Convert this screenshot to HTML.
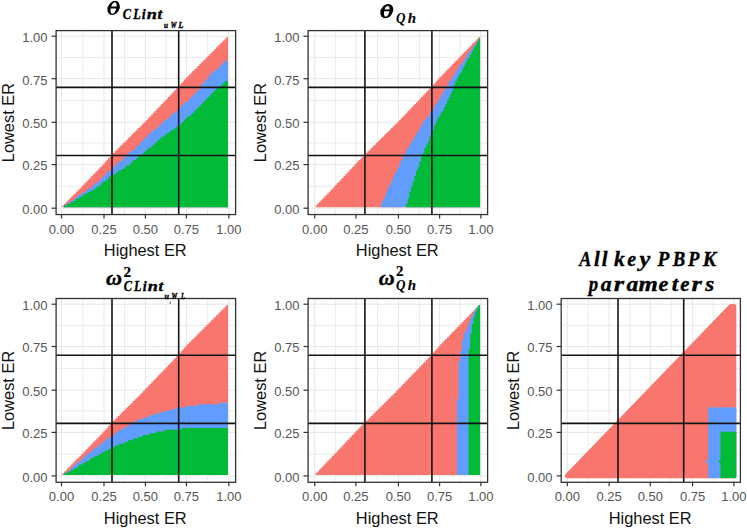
<!DOCTYPE html>
<html><head><meta charset="utf-8"><style>
html,body{margin:0;padding:0;background:#fff;}
svg{display:block;}
.tk{font-family:"Liberation Sans",sans-serif;font-size:13px;fill:#555;}
.at{font-family:"Liberation Sans",sans-serif;font-size:16.4px;fill:#111;}
.ti{font-family:"Liberation Serif",serif;font-weight:bold;font-style:italic;fill:#000;stroke:#000;stroke-width:0.35px;}
.t2{font-family:"Liberation Serif",serif;font-weight:bold;fill:#000;stroke:#000;stroke-width:0.2px;}
</style></head><body>
<svg width="747" height="529" viewBox="0 0 747 529">
<rect width="747" height="529" fill="#fff"/>
<line x1="61.50" y1="30.60" x2="61.50" y2="214.55" stroke="#E6E6E6" stroke-width="1.0"/>
<line x1="56.10" y1="208.20" x2="235.60" y2="208.20" stroke="#E6E6E6" stroke-width="1.0"/>
<line x1="82.75" y1="30.60" x2="82.75" y2="214.55" stroke="#EBEBEB" stroke-width="1.0"/>
<line x1="56.10" y1="186.40" x2="235.60" y2="186.40" stroke="#EBEBEB" stroke-width="1.0"/>
<line x1="104.00" y1="30.60" x2="104.00" y2="214.55" stroke="#E6E6E6" stroke-width="1.0"/>
<line x1="56.10" y1="164.60" x2="235.60" y2="164.60" stroke="#E6E6E6" stroke-width="1.0"/>
<line x1="124.53" y1="30.60" x2="124.53" y2="214.55" stroke="#EBEBEB" stroke-width="1.0"/>
<line x1="56.10" y1="143.05" x2="235.60" y2="143.05" stroke="#EBEBEB" stroke-width="1.0"/>
<line x1="145.40" y1="30.60" x2="145.40" y2="214.55" stroke="#E6E6E6" stroke-width="1.0"/>
<line x1="56.10" y1="122.30" x2="235.60" y2="122.30" stroke="#E6E6E6" stroke-width="1.0"/>
<line x1="166.21" y1="30.60" x2="166.21" y2="214.55" stroke="#EBEBEB" stroke-width="1.0"/>
<line x1="56.10" y1="100.46" x2="235.60" y2="100.46" stroke="#EBEBEB" stroke-width="1.0"/>
<line x1="186.40" y1="30.60" x2="186.40" y2="214.55" stroke="#E6E6E6" stroke-width="1.0"/>
<line x1="56.10" y1="78.70" x2="235.60" y2="78.70" stroke="#E6E6E6" stroke-width="1.0"/>
<line x1="207.62" y1="30.60" x2="207.62" y2="214.55" stroke="#EBEBEB" stroke-width="1.0"/>
<line x1="56.10" y1="57.45" x2="235.60" y2="57.45" stroke="#EBEBEB" stroke-width="1.0"/>
<line x1="228.85" y1="30.60" x2="228.85" y2="214.55" stroke="#E6E6E6" stroke-width="1.0"/>
<line x1="56.10" y1="36.20" x2="235.60" y2="36.20" stroke="#E6E6E6" stroke-width="1.0"/>
<path d="M62.35 207.33 L62.35 205.58 L64.05 205.58 L64.05 203.84 L65.75 203.84 L65.75 202.10 L67.45 202.10 L67.45 200.35 L69.15 200.35 L69.15 198.61 L70.85 198.61 L70.85 196.86 L72.55 196.86 L72.55 195.12 L74.25 195.12 L74.25 193.38 L75.95 193.38 L75.95 191.63 L77.65 191.63 L77.65 189.89 L79.35 189.89 L79.35 188.14 L81.05 188.14 L81.05 186.40 L82.75 186.40 L82.75 184.66 L84.45 184.66 L84.45 182.91 L86.15 182.91 L86.15 181.17 L87.85 181.17 L87.85 179.42 L89.55 179.42 L89.55 177.68 L91.25 177.68 L91.25 175.94 L92.95 175.94 L92.95 174.19 L94.65 174.19 L94.65 172.45 L96.35 172.45 L96.35 170.70 L98.05 170.70 L98.05 168.96 L99.75 168.96 L99.75 167.22 L101.45 167.22 L101.45 165.47 L103.15 165.47 L103.15 163.69 L104.80 163.69 L104.80 161.87 L106.40 161.87 L106.40 160.05 L108.00 160.05 L108.00 158.23 L109.60 158.23 L109.60 156.41 L111.20 156.41 L111.20 154.67 L112.84 154.67 L112.84 153.01 L114.50 153.01 L114.50 151.35 L116.18 151.35 L116.18 149.69 L117.84 149.69 L117.84 148.03 L119.52 148.03 L119.52 146.37 L121.19 146.37 L121.19 144.71 L122.86 144.71 L122.86 143.05 L124.53 143.05 L124.53 141.39 L126.20 141.39 L126.20 139.73 L127.87 139.73 L127.87 138.07 L129.53 138.07 L129.53 136.41 L131.20 136.41 L131.20 134.75 L132.88 134.75 L132.88 133.09 L134.55 133.09 L134.55 131.43 L136.22 131.43 L136.22 129.77 L137.88 129.77 L137.88 128.11 L139.56 128.11 L139.56 126.45 L141.22 126.45 L141.22 124.79 L142.90 124.79 L142.90 123.13 L144.56 123.13 L144.56 121.43 L146.23 121.43 L146.23 119.68 L147.90 119.68 L147.90 117.93 L149.56 117.93 L149.56 116.18 L151.23 116.18 L151.23 114.44 L152.89 114.44 L152.89 112.69 L154.56 112.69 L154.56 110.94 L156.22 110.94 L156.22 109.19 L157.89 109.19 L157.89 107.45 L159.55 107.45 L159.55 105.70 L161.22 105.70 L161.22 103.95 L162.88 103.95 L162.88 102.20 L164.55 102.20 L164.55 100.46 L166.21 100.46 L166.21 98.71 L167.88 98.71 L167.88 96.96 L169.54 96.96 L169.54 95.21 L171.21 95.21 L171.21 93.47 L172.87 93.47 L172.87 91.72 L174.54 91.72 L174.54 89.97 L176.20 89.97 L176.20 88.22 L177.87 88.22 L177.87 86.48 L179.47 86.48 L179.47 84.75 L181.01 84.75 L181.01 83.03 L182.55 83.03 L182.55 81.30 L184.09 81.30 L184.09 79.56 L185.63 79.56 L185.63 77.85 L187.25 77.85 L187.25 76.15 L188.95 76.15 L188.95 74.45 L190.65 74.45 L190.65 72.75 L192.34 72.75 L192.34 71.05 L194.04 71.05 L194.04 69.35 L195.74 69.35 L195.74 67.65 L197.44 67.65 L197.44 65.95 L199.13 65.95 L199.13 64.25 L200.83 64.25 L200.83 62.55 L202.53 62.55 L202.53 60.85 L204.23 60.85 L204.23 59.15 L205.93 59.15 L205.93 57.45 L207.62 57.45 L207.62 55.75 L209.32 55.75 L209.32 54.05 L211.02 54.05 L211.02 52.35 L212.72 52.35 L212.72 50.65 L214.42 50.65 L214.42 48.95 L216.12 48.95 L216.12 47.25 L217.81 47.25 L217.81 45.55 L219.51 45.55 L219.51 43.85 L221.21 43.85 L221.21 42.15 L222.91 42.15 L222.91 40.45 L224.60 40.45 L224.60 38.75 L226.30 38.75 L226.30 37.05 L228.00 37.05 L228.00 207.33 Z" fill="#F8766D"/>
<path d="M62.35 207.33 L62.35 207.33 L64.05 207.33 L64.05 205.58 L65.75 205.58 L65.75 203.84 L67.45 203.84 L67.45 203.84 L69.15 203.84 L69.15 202.10 L70.85 202.10 L70.85 200.35 L72.55 200.35 L72.55 200.35 L74.25 200.35 L74.25 198.61 L75.95 198.61 L75.95 196.86 L77.65 196.86 L77.65 195.12 L79.35 195.12 L79.35 195.12 L81.05 195.12 L81.05 193.38 L82.75 193.38 L82.75 191.63 L84.45 191.63 L84.45 191.63 L86.15 191.63 L86.15 189.89 L87.85 189.89 L87.85 188.14 L89.55 188.14 L89.55 188.14 L91.25 188.14 L91.25 186.40 L92.95 186.40 L92.95 184.66 L94.65 184.66 L94.65 182.91 L96.35 182.91 L96.35 182.91 L98.05 182.91 L98.05 181.17 L99.75 181.17 L99.75 179.42 L101.45 179.42 L101.45 177.68 L103.15 177.68 L103.15 175.94 L104.80 175.94 L104.80 174.19 L106.40 174.19 L106.40 172.45 L108.00 172.45 L108.00 170.70 L109.60 170.70 L109.60 170.70 L111.20 170.70 L111.20 168.96 L112.84 168.96 L112.84 167.22 L114.50 167.22 L114.50 165.47 L116.18 165.47 L116.18 163.69 L117.84 163.69 L117.84 161.87 L119.52 161.87 L119.52 161.87 L121.19 161.87 L121.19 160.05 L122.86 160.05 L122.86 158.23 L124.53 158.23 L124.53 156.41 L126.20 156.41 L126.20 154.67 L127.87 154.67 L127.87 153.01 L129.53 153.01 L129.53 151.35 L131.20 151.35 L131.20 151.35 L132.88 151.35 L132.88 149.69 L134.55 149.69 L134.55 148.03 L136.22 148.03 L136.22 146.37 L137.88 146.37 L137.88 144.71 L139.56 144.71 L139.56 143.05 L141.22 143.05 L141.22 141.39 L142.90 141.39 L142.90 139.73 L144.56 139.73 L144.56 138.07 L146.23 138.07 L146.23 136.41 L147.90 136.41 L147.90 134.75 L149.56 134.75 L149.56 133.09 L151.23 133.09 L151.23 131.43 L152.89 131.43 L152.89 129.77 L154.56 129.77 L154.56 129.77 L156.22 129.77 L156.22 128.11 L157.89 128.11 L157.89 126.45 L159.55 126.45 L159.55 124.79 L161.22 124.79 L161.22 123.13 L162.88 123.13 L162.88 121.43 L164.55 121.43 L164.55 119.68 L166.21 119.68 L166.21 119.68 L167.88 119.68 L167.88 117.93 L169.54 117.93 L169.54 116.18 L171.21 116.18 L171.21 114.44 L172.87 114.44 L172.87 112.69 L174.54 112.69 L174.54 112.69 L176.20 112.69 L176.20 110.94 L177.87 110.94 L177.87 109.19 L179.47 109.19 L179.47 107.45 L181.01 107.45 L181.01 105.70 L182.55 105.70 L182.55 103.95 L184.09 103.95 L184.09 102.20 L185.63 102.20 L185.63 102.20 L187.25 102.20 L187.25 100.46 L188.95 100.46 L188.95 98.71 L190.65 98.71 L190.65 96.96 L192.34 96.96 L192.34 95.21 L194.04 95.21 L194.04 93.47 L195.74 93.47 L195.74 91.72 L197.44 91.72 L197.44 89.97 L199.13 89.97 L199.13 88.22 L200.83 88.22 L200.83 84.75 L202.53 84.75 L202.53 83.03 L204.23 83.03 L204.23 81.30 L205.93 81.30 L205.93 79.56 L207.62 79.56 L207.62 77.85 L209.32 77.85 L209.32 74.45 L211.02 74.45 L211.02 72.75 L212.72 72.75 L212.72 71.05 L214.42 71.05 L214.42 71.05 L216.12 71.05 L216.12 69.35 L217.81 69.35 L217.81 67.65 L219.51 67.65 L219.51 65.95 L221.21 65.95 L221.21 64.25 L222.91 64.25 L222.91 62.55 L224.60 62.55 L224.60 60.85 L226.30 60.85 L226.30 60.85 L228.00 60.85 L228.00 207.33 Z" fill="#619CFF"/>
<path d="M62.35 207.33 L62.35 207.33 L64.05 207.33 L64.05 205.58 L65.75 205.58 L65.75 205.58 L67.45 205.58 L67.45 203.84 L69.15 203.84 L69.15 203.84 L70.85 203.84 L70.85 202.10 L72.55 202.10 L72.55 202.10 L74.25 202.10 L74.25 200.35 L75.95 200.35 L75.95 198.61 L77.65 198.61 L77.65 198.61 L79.35 198.61 L79.35 196.86 L81.05 196.86 L81.05 196.86 L82.75 196.86 L82.75 195.12 L84.45 195.12 L84.45 193.38 L86.15 193.38 L86.15 193.38 L87.85 193.38 L87.85 191.63 L89.55 191.63 L89.55 191.63 L91.25 191.63 L91.25 189.89 L92.95 189.89 L92.95 189.89 L94.65 189.89 L94.65 188.14 L96.35 188.14 L96.35 186.40 L98.05 186.40 L98.05 186.40 L99.75 186.40 L99.75 184.66 L101.45 184.66 L101.45 182.91 L103.15 182.91 L103.15 181.17 L104.80 181.17 L104.80 181.17 L106.40 181.17 L106.40 179.42 L108.00 179.42 L108.00 177.68 L109.60 177.68 L109.60 175.94 L111.20 175.94 L111.20 175.94 L112.84 175.94 L112.84 174.19 L114.50 174.19 L114.50 174.19 L116.18 174.19 L116.18 172.45 L117.84 172.45 L117.84 170.70 L119.52 170.70 L119.52 170.70 L121.19 170.70 L121.19 168.96 L122.86 168.96 L122.86 168.96 L124.53 168.96 L124.53 167.22 L126.20 167.22 L126.20 165.47 L127.87 165.47 L127.87 165.47 L129.53 165.47 L129.53 163.69 L131.20 163.69 L131.20 161.87 L132.88 161.87 L132.88 160.05 L134.55 160.05 L134.55 160.05 L136.22 160.05 L136.22 158.23 L137.88 158.23 L137.88 156.41 L139.56 156.41 L139.56 154.67 L141.22 154.67 L141.22 154.67 L142.90 154.67 L142.90 153.01 L144.56 153.01 L144.56 151.35 L146.23 151.35 L146.23 149.69 L147.90 149.69 L147.90 148.03 L149.56 148.03 L149.56 148.03 L151.23 148.03 L151.23 146.37 L152.89 146.37 L152.89 144.71 L154.56 144.71 L154.56 143.05 L156.22 143.05 L156.22 141.39 L157.89 141.39 L157.89 139.73 L159.55 139.73 L159.55 138.07 L161.22 138.07 L161.22 136.41 L162.88 136.41 L162.88 136.41 L164.55 136.41 L164.55 134.75 L166.21 134.75 L166.21 133.09 L167.88 133.09 L167.88 133.09 L169.54 133.09 L169.54 131.43 L171.21 131.43 L171.21 129.77 L172.87 129.77 L172.87 129.77 L174.54 129.77 L174.54 128.11 L176.20 128.11 L176.20 126.45 L177.87 126.45 L177.87 126.45 L179.47 126.45 L179.47 124.79 L181.01 124.79 L181.01 123.13 L182.55 123.13 L182.55 121.43 L184.09 121.43 L184.09 119.68 L185.63 119.68 L185.63 117.93 L187.25 117.93 L187.25 116.18 L188.95 116.18 L188.95 116.18 L190.65 116.18 L190.65 114.44 L192.34 114.44 L192.34 112.69 L194.04 112.69 L194.04 110.94 L195.74 110.94 L195.74 109.19 L197.44 109.19 L197.44 107.45 L199.13 107.45 L199.13 105.70 L200.83 105.70 L200.83 103.95 L202.53 103.95 L202.53 102.20 L204.23 102.20 L204.23 100.46 L205.93 100.46 L205.93 98.71 L207.62 98.71 L207.62 96.96 L209.32 96.96 L209.32 95.21 L211.02 95.21 L211.02 93.47 L212.72 93.47 L212.72 91.72 L214.42 91.72 L214.42 89.97 L216.12 89.97 L216.12 88.22 L217.81 88.22 L217.81 88.22 L219.51 88.22 L219.51 86.48 L221.21 86.48 L221.21 84.75 L222.91 84.75 L222.91 83.03 L224.60 83.03 L224.60 81.30 L226.30 81.30 L226.30 81.30 L228.00 81.30 L228.00 207.33 Z" fill="#00BA38"/>
<line x1="112.00" y1="30.60" x2="112.00" y2="214.55" stroke="#141414" stroke-width="1.6"/>
<line x1="56.10" y1="155.50" x2="235.60" y2="155.50" stroke="#141414" stroke-width="1.6"/>
<line x1="178.70" y1="30.60" x2="178.70" y2="214.55" stroke="#141414" stroke-width="1.6"/>
<line x1="56.10" y1="87.35" x2="235.60" y2="87.35" stroke="#141414" stroke-width="1.6"/>
<rect x="56.10" y="30.60" width="179.50" height="183.95" fill="none" stroke="#333" stroke-width="1.3"/>
<line x1="61.50" y1="214.55" x2="61.50" y2="218.55" stroke="#333" stroke-width="1.2"/>
<line x1="51.50" y1="208.20" x2="56.10" y2="208.20" stroke="#333" stroke-width="1.2"/>
<text x="61.50" y="233.65" class="tk" text-anchor="middle">0.00</text>
<text x="47.50" y="214.00" class="tk" text-anchor="end">0.00</text>
<line x1="104.00" y1="214.55" x2="104.00" y2="218.55" stroke="#333" stroke-width="1.2"/>
<line x1="51.50" y1="164.60" x2="56.10" y2="164.60" stroke="#333" stroke-width="1.2"/>
<text x="104.00" y="233.65" class="tk" text-anchor="middle">0.25</text>
<text x="47.50" y="170.40" class="tk" text-anchor="end">0.25</text>
<line x1="145.40" y1="214.55" x2="145.40" y2="218.55" stroke="#333" stroke-width="1.2"/>
<line x1="51.50" y1="122.30" x2="56.10" y2="122.30" stroke="#333" stroke-width="1.2"/>
<text x="145.40" y="233.65" class="tk" text-anchor="middle">0.50</text>
<text x="47.50" y="128.10" class="tk" text-anchor="end">0.50</text>
<line x1="186.40" y1="214.55" x2="186.40" y2="218.55" stroke="#333" stroke-width="1.2"/>
<line x1="51.50" y1="78.70" x2="56.10" y2="78.70" stroke="#333" stroke-width="1.2"/>
<text x="186.40" y="233.65" class="tk" text-anchor="middle">0.75</text>
<text x="47.50" y="84.50" class="tk" text-anchor="end">0.75</text>
<line x1="228.85" y1="214.55" x2="228.85" y2="218.55" stroke="#333" stroke-width="1.2"/>
<line x1="51.50" y1="36.20" x2="56.10" y2="36.20" stroke="#333" stroke-width="1.2"/>
<text x="228.85" y="233.65" class="tk" text-anchor="middle">1.00</text>
<text x="47.50" y="42.00" class="tk" text-anchor="end">1.00</text>
<text x="145.25" y="256.15" class="at" text-anchor="middle">Highest ER</text>
<text class="at" text-anchor="middle" transform="translate(13.90 122.58) rotate(-90)">Lowest ER</text>
<line x1="314.75" y1="30.60" x2="314.75" y2="214.55" stroke="#E6E6E6" stroke-width="1.0"/>
<line x1="308.10" y1="208.20" x2="487.60" y2="208.20" stroke="#E6E6E6" stroke-width="1.0"/>
<line x1="335.32" y1="30.60" x2="335.32" y2="214.55" stroke="#EBEBEB" stroke-width="1.0"/>
<line x1="308.10" y1="186.40" x2="487.60" y2="186.40" stroke="#EBEBEB" stroke-width="1.0"/>
<line x1="355.90" y1="30.60" x2="355.90" y2="214.55" stroke="#E6E6E6" stroke-width="1.0"/>
<line x1="308.10" y1="164.60" x2="487.60" y2="164.60" stroke="#E6E6E6" stroke-width="1.0"/>
<line x1="377.46" y1="30.60" x2="377.46" y2="214.55" stroke="#EBEBEB" stroke-width="1.0"/>
<line x1="308.10" y1="143.05" x2="487.60" y2="143.05" stroke="#EBEBEB" stroke-width="1.0"/>
<line x1="398.40" y1="30.60" x2="398.40" y2="214.55" stroke="#E6E6E6" stroke-width="1.0"/>
<line x1="308.10" y1="122.30" x2="487.60" y2="122.30" stroke="#E6E6E6" stroke-width="1.0"/>
<line x1="419.34" y1="30.60" x2="419.34" y2="214.55" stroke="#EBEBEB" stroke-width="1.0"/>
<line x1="308.10" y1="100.46" x2="487.60" y2="100.46" stroke="#EBEBEB" stroke-width="1.0"/>
<line x1="439.60" y1="30.60" x2="439.60" y2="214.55" stroke="#E6E6E6" stroke-width="1.0"/>
<line x1="308.10" y1="78.70" x2="487.60" y2="78.70" stroke="#E6E6E6" stroke-width="1.0"/>
<line x1="460.25" y1="30.60" x2="460.25" y2="214.55" stroke="#EBEBEB" stroke-width="1.0"/>
<line x1="308.10" y1="57.45" x2="487.60" y2="57.45" stroke="#EBEBEB" stroke-width="1.0"/>
<line x1="480.90" y1="30.60" x2="480.90" y2="214.55" stroke="#E6E6E6" stroke-width="1.0"/>
<line x1="308.10" y1="36.20" x2="487.60" y2="36.20" stroke="#E6E6E6" stroke-width="1.0"/>
<path d="M315.57 207.33 L315.57 205.58 L317.22 205.58 L317.22 203.84 L318.87 203.84 L318.87 202.10 L320.51 202.10 L320.51 200.35 L322.16 200.35 L322.16 198.61 L323.80 198.61 L323.80 196.86 L325.45 196.86 L325.45 195.12 L327.09 195.12 L327.09 193.38 L328.74 193.38 L328.74 191.63 L330.39 191.63 L330.39 189.89 L332.03 189.89 L332.03 188.14 L333.68 188.14 L333.68 186.40 L335.32 186.40 L335.32 184.66 L336.97 184.66 L336.97 182.91 L338.62 182.91 L338.62 181.17 L340.26 181.17 L340.26 179.42 L341.91 179.42 L341.91 177.68 L343.56 177.68 L343.56 175.94 L345.20 175.94 L345.20 174.19 L346.85 174.19 L346.85 172.45 L348.49 172.45 L348.49 170.70 L350.14 170.70 L350.14 168.96 L351.78 168.96 L351.78 167.22 L353.43 167.22 L353.43 165.47 L355.08 165.47 L355.08 163.69 L356.80 163.69 L356.80 161.87 L358.60 161.87 L358.60 160.05 L360.40 160.05 L360.40 158.23 L362.20 158.23 L362.20 156.41 L364.00 156.41 L364.00 154.67 L365.74 154.67 L365.74 153.01 L367.41 153.01 L367.41 151.35 L369.09 151.35 L369.09 149.69 L370.76 149.69 L370.76 148.03 L372.44 148.03 L372.44 146.37 L374.11 146.37 L374.11 144.71 L375.79 144.71 L375.79 143.05 L377.46 143.05 L377.46 141.39 L379.14 141.39 L379.14 139.73 L380.81 139.73 L380.81 138.07 L382.49 138.07 L382.49 136.41 L384.16 136.41 L384.16 134.75 L385.84 134.75 L385.84 133.09 L387.51 133.09 L387.51 131.43 L389.19 131.43 L389.19 129.77 L390.86 129.77 L390.86 128.11 L392.54 128.11 L392.54 126.45 L394.21 126.45 L394.21 124.79 L395.89 124.79 L395.89 123.13 L397.56 123.13 L397.56 121.43 L399.24 121.43 L399.24 119.68 L400.91 119.68 L400.91 117.93 L402.59 117.93 L402.59 116.18 L404.26 116.18 L404.26 114.44 L405.94 114.44 L405.94 112.69 L407.61 112.69 L407.61 110.94 L409.29 110.94 L409.29 109.19 L410.96 109.19 L410.96 107.45 L412.64 107.45 L412.64 105.70 L414.31 105.70 L414.31 103.95 L415.99 103.95 L415.99 102.20 L417.66 102.20 L417.66 100.46 L419.34 100.46 L419.34 98.71 L421.01 98.71 L421.01 96.96 L422.69 96.96 L422.69 95.21 L424.36 95.21 L424.36 93.47 L426.04 93.47 L426.04 91.72 L427.71 91.72 L427.71 89.97 L429.39 89.97 L429.39 88.22 L431.06 88.22 L431.06 86.48 L432.67 86.48 L432.67 84.75 L434.21 84.75 L434.21 83.03 L435.75 83.03 L435.75 81.30 L437.29 81.30 L437.29 79.56 L438.83 79.56 L438.83 77.85 L440.43 77.85 L440.43 76.15 L442.08 76.15 L442.08 74.45 L443.73 74.45 L443.73 72.75 L445.38 72.75 L445.38 71.05 L447.03 71.05 L447.03 69.35 L448.69 69.35 L448.69 67.65 L450.34 67.65 L450.34 65.95 L451.99 65.95 L451.99 64.25 L453.64 64.25 L453.64 62.55 L455.29 62.55 L455.29 60.85 L456.95 60.85 L456.95 59.15 L458.60 59.15 L458.60 57.45 L460.25 57.45 L460.25 55.75 L461.90 55.75 L461.90 54.05 L463.55 54.05 L463.55 52.35 L465.21 52.35 L465.21 50.65 L466.86 50.65 L466.86 48.95 L468.51 48.95 L468.51 47.25 L470.16 47.25 L470.16 45.55 L471.81 45.55 L471.81 43.85 L473.47 43.85 L473.47 42.15 L475.12 42.15 L475.12 40.45 L476.77 40.45 L476.77 38.75 L478.42 38.75 L478.42 37.05 L480.07 37.05 L480.07 207.33 Z" fill="#F8766D"/>
<path d="M315.57 207.33 L315.57 207.33 L317.22 207.33 L317.22 207.33 L318.87 207.33 L318.87 207.33 L320.51 207.33 L320.51 207.33 L322.16 207.33 L322.16 207.33 L323.80 207.33 L323.80 207.33 L325.45 207.33 L325.45 207.33 L327.09 207.33 L327.09 207.33 L328.74 207.33 L328.74 207.33 L330.39 207.33 L330.39 207.33 L332.03 207.33 L332.03 207.33 L333.68 207.33 L333.68 207.33 L335.32 207.33 L335.32 207.33 L336.97 207.33 L336.97 207.33 L338.62 207.33 L338.62 207.33 L340.26 207.33 L340.26 207.33 L341.91 207.33 L341.91 207.33 L343.56 207.33 L343.56 207.33 L345.20 207.33 L345.20 207.33 L346.85 207.33 L346.85 207.33 L348.49 207.33 L348.49 207.33 L350.14 207.33 L350.14 207.33 L351.78 207.33 L351.78 207.33 L353.43 207.33 L353.43 207.33 L355.08 207.33 L355.08 207.33 L356.80 207.33 L356.80 207.33 L358.60 207.33 L358.60 207.33 L360.40 207.33 L360.40 207.33 L362.20 207.33 L362.20 207.33 L364.00 207.33 L364.00 207.33 L365.74 207.33 L365.74 207.33 L367.41 207.33 L367.41 207.33 L369.09 207.33 L369.09 207.33 L370.76 207.33 L370.76 207.33 L372.44 207.33 L372.44 207.33 L374.11 207.33 L374.11 207.33 L375.79 207.33 L375.79 207.33 L377.46 207.33 L377.46 207.33 L379.14 207.33 L379.14 207.33 L380.81 207.33 L380.81 203.84 L382.49 203.84 L382.49 200.35 L384.16 200.35 L384.16 196.86 L385.84 196.86 L385.84 191.63 L387.51 191.63 L387.51 188.14 L389.19 188.14 L389.19 184.66 L390.86 184.66 L390.86 181.17 L392.54 181.17 L392.54 177.68 L394.21 177.68 L394.21 174.19 L395.89 174.19 L395.89 170.70 L397.56 170.70 L397.56 167.22 L399.24 167.22 L399.24 163.69 L400.91 163.69 L400.91 160.05 L402.59 160.05 L402.59 154.67 L404.26 154.67 L404.26 153.01 L405.94 153.01 L405.94 149.69 L407.61 149.69 L407.61 148.03 L409.29 148.03 L409.29 144.71 L410.96 144.71 L410.96 141.39 L412.64 141.39 L412.64 139.73 L414.31 139.73 L414.31 136.41 L415.99 136.41 L415.99 133.09 L417.66 133.09 L417.66 131.43 L419.34 131.43 L419.34 128.11 L421.01 128.11 L421.01 124.79 L422.69 124.79 L422.69 121.43 L424.36 121.43 L424.36 119.68 L426.04 119.68 L426.04 117.93 L427.71 117.93 L427.71 116.18 L429.39 116.18 L429.39 112.69 L431.06 112.69 L431.06 110.94 L432.67 110.94 L432.67 109.19 L434.21 109.19 L434.21 105.70 L435.75 105.70 L435.75 103.95 L437.29 103.95 L437.29 100.46 L438.83 100.46 L438.83 98.71 L440.43 98.71 L440.43 95.21 L442.08 95.21 L442.08 93.47 L443.73 93.47 L443.73 89.97 L445.38 89.97 L445.38 88.22 L447.03 88.22 L447.03 84.75 L448.69 84.75 L448.69 81.30 L450.34 81.30 L450.34 79.56 L451.99 79.56 L451.99 76.15 L453.64 76.15 L453.64 74.45 L455.29 74.45 L455.29 71.05 L456.95 71.05 L456.95 69.35 L458.60 69.35 L458.60 65.95 L460.25 65.95 L460.25 64.25 L461.90 64.25 L461.90 62.55 L463.55 62.55 L463.55 59.15 L465.21 59.15 L465.21 57.45 L466.86 57.45 L466.86 54.05 L468.51 54.05 L468.51 52.35 L470.16 52.35 L470.16 50.65 L471.81 50.65 L471.81 47.25 L473.47 47.25 L473.47 45.55 L475.12 45.55 L475.12 43.85 L476.77 43.85 L476.77 40.45 L478.42 40.45 L478.42 38.75 L480.07 38.75 L480.07 207.33 Z" fill="#619CFF"/>
<path d="M315.57 207.33 L315.57 207.33 L317.22 207.33 L317.22 207.33 L318.87 207.33 L318.87 207.33 L320.51 207.33 L320.51 207.33 L322.16 207.33 L322.16 207.33 L323.80 207.33 L323.80 207.33 L325.45 207.33 L325.45 207.33 L327.09 207.33 L327.09 207.33 L328.74 207.33 L328.74 207.33 L330.39 207.33 L330.39 207.33 L332.03 207.33 L332.03 207.33 L333.68 207.33 L333.68 207.33 L335.32 207.33 L335.32 207.33 L336.97 207.33 L336.97 207.33 L338.62 207.33 L338.62 207.33 L340.26 207.33 L340.26 207.33 L341.91 207.33 L341.91 207.33 L343.56 207.33 L343.56 207.33 L345.20 207.33 L345.20 207.33 L346.85 207.33 L346.85 207.33 L348.49 207.33 L348.49 207.33 L350.14 207.33 L350.14 207.33 L351.78 207.33 L351.78 207.33 L353.43 207.33 L353.43 207.33 L355.08 207.33 L355.08 207.33 L356.80 207.33 L356.80 207.33 L358.60 207.33 L358.60 207.33 L360.40 207.33 L360.40 207.33 L362.20 207.33 L362.20 207.33 L364.00 207.33 L364.00 207.33 L365.74 207.33 L365.74 207.33 L367.41 207.33 L367.41 207.33 L369.09 207.33 L369.09 207.33 L370.76 207.33 L370.76 207.33 L372.44 207.33 L372.44 207.33 L374.11 207.33 L374.11 207.33 L375.79 207.33 L375.79 207.33 L377.46 207.33 L377.46 207.33 L379.14 207.33 L379.14 207.33 L380.81 207.33 L380.81 207.33 L382.49 207.33 L382.49 207.33 L384.16 207.33 L384.16 207.33 L385.84 207.33 L385.84 207.33 L387.51 207.33 L387.51 207.33 L389.19 207.33 L389.19 207.33 L390.86 207.33 L390.86 207.33 L392.54 207.33 L392.54 207.33 L394.21 207.33 L394.21 207.33 L395.89 207.33 L395.89 207.33 L397.56 207.33 L397.56 207.33 L399.24 207.33 L399.24 207.33 L400.91 207.33 L400.91 207.33 L402.59 207.33 L402.59 207.33 L404.26 207.33 L404.26 207.33 L405.94 207.33 L405.94 203.84 L407.61 203.84 L407.61 198.61 L409.29 198.61 L409.29 191.63 L410.96 191.63 L410.96 186.40 L412.64 186.40 L412.64 181.17 L414.31 181.17 L414.31 175.94 L415.99 175.94 L415.99 170.70 L417.66 170.70 L417.66 167.22 L419.34 167.22 L419.34 161.87 L421.01 161.87 L421.01 156.41 L422.69 156.41 L422.69 153.01 L424.36 153.01 L424.36 148.03 L426.04 148.03 L426.04 144.71 L427.71 144.71 L427.71 141.39 L429.39 141.39 L429.39 136.41 L431.06 136.41 L431.06 133.09 L432.67 133.09 L432.67 129.77 L434.21 129.77 L434.21 124.79 L435.75 124.79 L435.75 121.43 L437.29 121.43 L437.29 117.93 L438.83 117.93 L438.83 116.18 L440.43 116.18 L440.43 112.69 L442.08 112.69 L442.08 110.94 L443.73 110.94 L443.73 107.45 L445.38 107.45 L445.38 103.95 L447.03 103.95 L447.03 100.46 L448.69 100.46 L448.69 96.96 L450.34 96.96 L450.34 93.47 L451.99 93.47 L451.99 89.97 L453.64 89.97 L453.64 84.75 L455.29 84.75 L455.29 81.30 L456.95 81.30 L456.95 77.85 L458.60 77.85 L458.60 74.45 L460.25 74.45 L460.25 72.75 L461.90 72.75 L461.90 69.35 L463.55 69.35 L463.55 65.95 L465.21 65.95 L465.21 62.55 L466.86 62.55 L466.86 59.15 L468.51 59.15 L468.51 57.45 L470.16 57.45 L470.16 54.05 L471.81 54.05 L471.81 50.65 L473.47 50.65 L473.47 47.25 L475.12 47.25 L475.12 45.55 L476.77 45.55 L476.77 42.15 L478.42 42.15 L478.42 38.75 L480.07 38.75 L480.07 207.33 Z" fill="#00BA38"/>
<line x1="364.90" y1="30.60" x2="364.90" y2="214.55" stroke="#141414" stroke-width="1.6"/>
<line x1="308.10" y1="155.50" x2="487.60" y2="155.50" stroke="#141414" stroke-width="1.6"/>
<line x1="431.90" y1="30.60" x2="431.90" y2="214.55" stroke="#141414" stroke-width="1.6"/>
<line x1="308.10" y1="87.35" x2="487.60" y2="87.35" stroke="#141414" stroke-width="1.6"/>
<rect x="308.10" y="30.60" width="179.50" height="183.95" fill="none" stroke="#333" stroke-width="1.3"/>
<line x1="314.75" y1="214.55" x2="314.75" y2="218.55" stroke="#333" stroke-width="1.2"/>
<line x1="303.50" y1="208.20" x2="308.10" y2="208.20" stroke="#333" stroke-width="1.2"/>
<text x="314.75" y="233.65" class="tk" text-anchor="middle">0.00</text>
<text x="299.50" y="214.00" class="tk" text-anchor="end">0.00</text>
<line x1="355.90" y1="214.55" x2="355.90" y2="218.55" stroke="#333" stroke-width="1.2"/>
<line x1="303.50" y1="164.60" x2="308.10" y2="164.60" stroke="#333" stroke-width="1.2"/>
<text x="355.90" y="233.65" class="tk" text-anchor="middle">0.25</text>
<text x="299.50" y="170.40" class="tk" text-anchor="end">0.25</text>
<line x1="398.40" y1="214.55" x2="398.40" y2="218.55" stroke="#333" stroke-width="1.2"/>
<line x1="303.50" y1="122.30" x2="308.10" y2="122.30" stroke="#333" stroke-width="1.2"/>
<text x="398.40" y="233.65" class="tk" text-anchor="middle">0.50</text>
<text x="299.50" y="128.10" class="tk" text-anchor="end">0.50</text>
<line x1="439.60" y1="214.55" x2="439.60" y2="218.55" stroke="#333" stroke-width="1.2"/>
<line x1="303.50" y1="78.70" x2="308.10" y2="78.70" stroke="#333" stroke-width="1.2"/>
<text x="439.60" y="233.65" class="tk" text-anchor="middle">0.75</text>
<text x="299.50" y="84.50" class="tk" text-anchor="end">0.75</text>
<line x1="480.90" y1="214.55" x2="480.90" y2="218.55" stroke="#333" stroke-width="1.2"/>
<line x1="303.50" y1="36.20" x2="308.10" y2="36.20" stroke="#333" stroke-width="1.2"/>
<text x="480.90" y="233.65" class="tk" text-anchor="middle">1.00</text>
<text x="299.50" y="42.00" class="tk" text-anchor="end">1.00</text>
<text x="397.25" y="256.15" class="at" text-anchor="middle">Highest ER</text>
<text class="at" text-anchor="middle" transform="translate(265.90 122.58) rotate(-90)">Lowest ER</text>
<line x1="61.50" y1="298.50" x2="61.50" y2="482.30" stroke="#E6E6E6" stroke-width="1.0"/>
<line x1="56.10" y1="475.90" x2="235.60" y2="475.90" stroke="#E6E6E6" stroke-width="1.0"/>
<line x1="82.75" y1="298.50" x2="82.75" y2="482.30" stroke="#EBEBEB" stroke-width="1.0"/>
<line x1="56.10" y1="454.15" x2="235.60" y2="454.15" stroke="#EBEBEB" stroke-width="1.0"/>
<line x1="104.00" y1="298.50" x2="104.00" y2="482.30" stroke="#E6E6E6" stroke-width="1.0"/>
<line x1="56.10" y1="432.40" x2="235.60" y2="432.40" stroke="#E6E6E6" stroke-width="1.0"/>
<line x1="124.53" y1="298.50" x2="124.53" y2="482.30" stroke="#EBEBEB" stroke-width="1.0"/>
<line x1="56.10" y1="410.92" x2="235.60" y2="410.92" stroke="#EBEBEB" stroke-width="1.0"/>
<line x1="145.40" y1="298.50" x2="145.40" y2="482.30" stroke="#E6E6E6" stroke-width="1.0"/>
<line x1="56.10" y1="390.20" x2="235.60" y2="390.20" stroke="#E6E6E6" stroke-width="1.0"/>
<line x1="166.21" y1="298.50" x2="166.21" y2="482.30" stroke="#EBEBEB" stroke-width="1.0"/>
<line x1="56.10" y1="368.39" x2="235.60" y2="368.39" stroke="#EBEBEB" stroke-width="1.0"/>
<line x1="186.40" y1="298.50" x2="186.40" y2="482.30" stroke="#E6E6E6" stroke-width="1.0"/>
<line x1="56.10" y1="346.50" x2="235.60" y2="346.50" stroke="#E6E6E6" stroke-width="1.0"/>
<line x1="207.62" y1="298.50" x2="207.62" y2="482.30" stroke="#EBEBEB" stroke-width="1.0"/>
<line x1="56.10" y1="325.35" x2="235.60" y2="325.35" stroke="#EBEBEB" stroke-width="1.0"/>
<line x1="228.85" y1="298.50" x2="228.85" y2="482.30" stroke="#E6E6E6" stroke-width="1.0"/>
<line x1="56.10" y1="304.20" x2="235.60" y2="304.20" stroke="#E6E6E6" stroke-width="1.0"/>
<path d="M62.35 475.03 L62.35 473.29 L64.05 473.29 L64.05 471.55 L65.75 471.55 L65.75 469.81 L67.45 469.81 L67.45 468.07 L69.15 468.07 L69.15 466.33 L70.85 466.33 L70.85 464.59 L72.55 464.59 L72.55 462.85 L74.25 462.85 L74.25 461.11 L75.95 461.11 L75.95 459.37 L77.65 459.37 L77.65 457.63 L79.35 457.63 L79.35 455.89 L81.05 455.89 L81.05 454.15 L82.75 454.15 L82.75 452.41 L84.45 452.41 L84.45 450.67 L86.15 450.67 L86.15 448.93 L87.85 448.93 L87.85 447.19 L89.55 447.19 L89.55 445.45 L91.25 445.45 L91.25 443.71 L92.95 443.71 L92.95 441.97 L94.65 441.97 L94.65 440.23 L96.35 440.23 L96.35 438.49 L98.05 438.49 L98.05 436.75 L99.75 436.75 L99.75 435.01 L101.45 435.01 L101.45 433.27 L103.15 433.27 L103.15 431.50 L104.80 431.50 L104.80 429.69 L106.40 429.69 L106.40 427.88 L108.00 427.88 L108.00 426.06 L109.60 426.06 L109.60 424.25 L111.20 424.25 L111.20 422.52 L112.84 422.52 L112.84 420.86 L114.50 420.86 L114.50 419.21 L116.18 419.21 L116.18 417.55 L117.84 417.55 L117.84 415.89 L119.52 415.89 L119.52 414.23 L121.19 414.23 L121.19 412.58 L122.86 412.58 L122.86 410.92 L124.53 410.92 L124.53 409.26 L126.20 409.26 L126.20 407.60 L127.87 407.60 L127.87 405.95 L129.53 405.95 L129.53 404.29 L131.20 404.29 L131.20 402.63 L132.88 402.63 L132.88 400.97 L134.55 400.97 L134.55 399.32 L136.22 399.32 L136.22 397.66 L137.88 397.66 L137.88 396.00 L139.56 396.00 L139.56 394.34 L141.22 394.34 L141.22 392.69 L142.90 392.69 L142.90 391.03 L144.56 391.03 L144.56 389.33 L146.23 389.33 L146.23 387.58 L147.90 387.58 L147.90 385.84 L149.56 385.84 L149.56 384.09 L151.23 384.09 L151.23 382.35 L152.89 382.35 L152.89 380.60 L154.56 380.60 L154.56 378.86 L156.22 378.86 L156.22 377.11 L157.89 377.11 L157.89 375.37 L159.55 375.37 L159.55 373.62 L161.22 373.62 L161.22 371.88 L162.88 371.88 L162.88 370.13 L164.55 370.13 L164.55 368.39 L166.21 368.39 L166.21 366.64 L167.88 366.64 L167.88 364.90 L169.54 364.90 L169.54 363.15 L171.21 363.15 L171.21 361.41 L172.87 361.41 L172.87 359.66 L174.54 359.66 L174.54 357.92 L176.20 357.92 L176.20 356.17 L177.87 356.17 L177.87 354.42 L179.47 354.42 L179.47 352.66 L181.01 352.66 L181.01 350.90 L182.55 350.90 L182.55 349.14 L184.09 349.14 L184.09 347.38 L185.63 347.38 L185.63 345.65 L187.25 345.65 L187.25 343.96 L188.95 343.96 L188.95 342.27 L190.65 342.27 L190.65 340.58 L192.34 340.58 L192.34 338.89 L194.04 338.89 L194.04 337.19 L195.74 337.19 L195.74 335.50 L197.44 335.50 L197.44 333.81 L199.13 333.81 L199.13 332.12 L200.83 332.12 L200.83 330.43 L202.53 330.43 L202.53 328.73 L204.23 328.73 L204.23 327.04 L205.93 327.04 L205.93 325.35 L207.62 325.35 L207.62 323.66 L209.32 323.66 L209.32 321.97 L211.02 321.97 L211.02 320.27 L212.72 320.27 L212.72 318.58 L214.42 318.58 L214.42 316.89 L216.12 316.89 L216.12 315.20 L217.81 315.20 L217.81 313.51 L219.51 313.51 L219.51 311.81 L221.21 311.81 L221.21 310.12 L222.91 310.12 L222.91 308.43 L224.60 308.43 L224.60 306.74 L226.30 306.74 L226.30 305.05 L228.00 305.05 L228.00 475.03 Z" fill="#F8766D"/>
<path d="M62.35 475.03 L62.35 475.03 L64.05 475.03 L64.05 473.29 L65.75 473.29 L65.75 471.55 L67.45 471.55 L67.45 471.55 L69.15 471.55 L69.15 469.81 L70.85 469.81 L70.85 468.07 L72.55 468.07 L72.55 466.33 L74.25 466.33 L74.25 464.59 L75.95 464.59 L75.95 462.85 L77.65 462.85 L77.65 462.85 L79.35 462.85 L79.35 461.11 L81.05 461.11 L81.05 459.37 L82.75 459.37 L82.75 457.63 L84.45 457.63 L84.45 455.89 L86.15 455.89 L86.15 454.15 L87.85 454.15 L87.85 452.41 L89.55 452.41 L89.55 452.41 L91.25 452.41 L91.25 450.67 L92.95 450.67 L92.95 448.93 L94.65 448.93 L94.65 447.19 L96.35 447.19 L96.35 447.19 L98.05 447.19 L98.05 445.45 L99.75 445.45 L99.75 443.71 L101.45 443.71 L101.45 443.71 L103.15 443.71 L103.15 441.97 L104.80 441.97 L104.80 440.23 L106.40 440.23 L106.40 438.49 L108.00 438.49 L108.00 438.49 L109.60 438.49 L109.60 436.75 L111.20 436.75 L111.20 435.01 L112.84 435.01 L112.84 435.01 L114.50 435.01 L114.50 433.27 L116.18 433.27 L116.18 431.50 L117.84 431.50 L117.84 431.50 L119.52 431.50 L119.52 429.69 L121.19 429.69 L121.19 429.69 L122.86 429.69 L122.86 427.88 L124.53 427.88 L124.53 427.88 L126.20 427.88 L126.20 426.06 L127.87 426.06 L127.87 426.06 L129.53 426.06 L129.53 424.25 L131.20 424.25 L131.20 422.52 L132.88 422.52 L132.88 422.52 L134.55 422.52 L134.55 420.86 L136.22 420.86 L136.22 420.86 L137.88 420.86 L137.88 419.21 L139.56 419.21 L139.56 419.21 L141.22 419.21 L141.22 419.21 L142.90 419.21 L142.90 417.55 L144.56 417.55 L144.56 417.55 L146.23 417.55 L146.23 417.55 L147.90 417.55 L147.90 415.89 L149.56 415.89 L149.56 415.89 L151.23 415.89 L151.23 414.23 L152.89 414.23 L152.89 414.23 L154.56 414.23 L154.56 414.23 L156.22 414.23 L156.22 414.23 L157.89 414.23 L157.89 412.58 L159.55 412.58 L159.55 412.58 L161.22 412.58 L161.22 412.58 L162.88 412.58 L162.88 410.92 L164.55 410.92 L164.55 410.92 L166.21 410.92 L166.21 410.92 L167.88 410.92 L167.88 410.92 L169.54 410.92 L169.54 409.26 L171.21 409.26 L171.21 409.26 L172.87 409.26 L172.87 409.26 L174.54 409.26 L174.54 409.26 L176.20 409.26 L176.20 407.60 L177.87 407.60 L177.87 407.60 L179.47 407.60 L179.47 407.60 L181.01 407.60 L181.01 407.60 L182.55 407.60 L182.55 407.60 L184.09 407.60 L184.09 407.60 L185.63 407.60 L185.63 405.95 L187.25 405.95 L187.25 405.95 L188.95 405.95 L188.95 405.95 L190.65 405.95 L190.65 405.95 L192.34 405.95 L192.34 405.95 L194.04 405.95 L194.04 405.95 L195.74 405.95 L195.74 405.95 L197.44 405.95 L197.44 404.29 L199.13 404.29 L199.13 404.29 L200.83 404.29 L200.83 404.29 L202.53 404.29 L202.53 404.29 L204.23 404.29 L204.23 404.29 L205.93 404.29 L205.93 404.29 L207.62 404.29 L207.62 404.29 L209.32 404.29 L209.32 404.29 L211.02 404.29 L211.02 404.29 L212.72 404.29 L212.72 404.29 L214.42 404.29 L214.42 404.29 L216.12 404.29 L216.12 404.29 L217.81 404.29 L217.81 404.29 L219.51 404.29 L219.51 402.63 L221.21 402.63 L221.21 402.63 L222.91 402.63 L222.91 402.63 L224.60 402.63 L224.60 402.63 L226.30 402.63 L226.30 402.63 L228.00 402.63 L228.00 475.03 Z" fill="#619CFF"/>
<path d="M62.35 475.03 L62.35 475.03 L64.05 475.03 L64.05 473.29 L65.75 473.29 L65.75 473.29 L67.45 473.29 L67.45 471.55 L69.15 471.55 L69.15 471.55 L70.85 471.55 L70.85 469.81 L72.55 469.81 L72.55 469.81 L74.25 469.81 L74.25 468.07 L75.95 468.07 L75.95 468.07 L77.65 468.07 L77.65 466.33 L79.35 466.33 L79.35 464.59 L81.05 464.59 L81.05 464.59 L82.75 464.59 L82.75 462.85 L84.45 462.85 L84.45 462.85 L86.15 462.85 L86.15 461.11 L87.85 461.11 L87.85 461.11 L89.55 461.11 L89.55 459.37 L91.25 459.37 L91.25 457.63 L92.95 457.63 L92.95 457.63 L94.65 457.63 L94.65 455.89 L96.35 455.89 L96.35 455.89 L98.05 455.89 L98.05 454.15 L99.75 454.15 L99.75 454.15 L101.45 454.15 L101.45 452.41 L103.15 452.41 L103.15 452.41 L104.80 452.41 L104.80 450.67 L106.40 450.67 L106.40 450.67 L108.00 450.67 L108.00 448.93 L109.60 448.93 L109.60 448.93 L111.20 448.93 L111.20 447.19 L112.84 447.19 L112.84 447.19 L114.50 447.19 L114.50 445.45 L116.18 445.45 L116.18 445.45 L117.84 445.45 L117.84 445.45 L119.52 445.45 L119.52 443.71 L121.19 443.71 L121.19 443.71 L122.86 443.71 L122.86 443.71 L124.53 443.71 L124.53 441.97 L126.20 441.97 L126.20 441.97 L127.87 441.97 L127.87 440.23 L129.53 440.23 L129.53 440.23 L131.20 440.23 L131.20 440.23 L132.88 440.23 L132.88 438.49 L134.55 438.49 L134.55 438.49 L136.22 438.49 L136.22 438.49 L137.88 438.49 L137.88 436.75 L139.56 436.75 L139.56 436.75 L141.22 436.75 L141.22 436.75 L142.90 436.75 L142.90 435.01 L144.56 435.01 L144.56 435.01 L146.23 435.01 L146.23 435.01 L147.90 435.01 L147.90 435.01 L149.56 435.01 L149.56 433.27 L151.23 433.27 L151.23 433.27 L152.89 433.27 L152.89 433.27 L154.56 433.27 L154.56 433.27 L156.22 433.27 L156.22 431.50 L157.89 431.50 L157.89 431.50 L159.55 431.50 L159.55 431.50 L161.22 431.50 L161.22 431.50 L162.88 431.50 L162.88 431.50 L164.55 431.50 L164.55 429.69 L166.21 429.69 L166.21 429.69 L167.88 429.69 L167.88 429.69 L169.54 429.69 L169.54 429.69 L171.21 429.69 L171.21 429.69 L172.87 429.69 L172.87 429.69 L174.54 429.69 L174.54 429.69 L176.20 429.69 L176.20 429.69 L177.87 429.69 L177.87 429.69 L179.47 429.69 L179.47 429.69 L181.01 429.69 L181.01 427.88 L182.55 427.88 L182.55 427.88 L184.09 427.88 L184.09 427.88 L185.63 427.88 L185.63 427.88 L187.25 427.88 L187.25 427.88 L188.95 427.88 L188.95 427.88 L190.65 427.88 L190.65 427.88 L192.34 427.88 L192.34 427.88 L194.04 427.88 L194.04 427.88 L195.74 427.88 L195.74 427.88 L197.44 427.88 L197.44 427.88 L199.13 427.88 L199.13 427.88 L200.83 427.88 L200.83 427.88 L202.53 427.88 L202.53 427.88 L204.23 427.88 L204.23 427.88 L205.93 427.88 L205.93 427.88 L207.62 427.88 L207.62 427.88 L209.32 427.88 L209.32 427.88 L211.02 427.88 L211.02 427.88 L212.72 427.88 L212.72 427.88 L214.42 427.88 L214.42 427.88 L216.12 427.88 L216.12 427.88 L217.81 427.88 L217.81 427.88 L219.51 427.88 L219.51 427.88 L221.21 427.88 L221.21 427.88 L222.91 427.88 L222.91 427.88 L224.60 427.88 L224.60 427.88 L226.30 427.88 L226.30 427.88 L228.00 427.88 L228.00 475.03 Z" fill="#00BA38"/>
<line x1="112.00" y1="298.50" x2="112.00" y2="482.30" stroke="#141414" stroke-width="1.6"/>
<line x1="56.10" y1="423.35" x2="235.60" y2="423.35" stroke="#141414" stroke-width="1.6"/>
<line x1="178.70" y1="298.50" x2="178.70" y2="482.30" stroke="#141414" stroke-width="1.6"/>
<line x1="56.10" y1="355.30" x2="235.60" y2="355.30" stroke="#141414" stroke-width="1.6"/>
<rect x="56.10" y="298.50" width="179.50" height="183.80" fill="none" stroke="#333" stroke-width="1.3"/>
<line x1="61.50" y1="482.30" x2="61.50" y2="486.30" stroke="#333" stroke-width="1.2"/>
<line x1="51.50" y1="475.90" x2="56.10" y2="475.90" stroke="#333" stroke-width="1.2"/>
<text x="61.50" y="501.40" class="tk" text-anchor="middle">0.00</text>
<text x="47.50" y="481.70" class="tk" text-anchor="end">0.00</text>
<line x1="104.00" y1="482.30" x2="104.00" y2="486.30" stroke="#333" stroke-width="1.2"/>
<line x1="51.50" y1="432.40" x2="56.10" y2="432.40" stroke="#333" stroke-width="1.2"/>
<text x="104.00" y="501.40" class="tk" text-anchor="middle">0.25</text>
<text x="47.50" y="438.20" class="tk" text-anchor="end">0.25</text>
<line x1="145.40" y1="482.30" x2="145.40" y2="486.30" stroke="#333" stroke-width="1.2"/>
<line x1="51.50" y1="390.20" x2="56.10" y2="390.20" stroke="#333" stroke-width="1.2"/>
<text x="145.40" y="501.40" class="tk" text-anchor="middle">0.50</text>
<text x="47.50" y="396.00" class="tk" text-anchor="end">0.50</text>
<line x1="186.40" y1="482.30" x2="186.40" y2="486.30" stroke="#333" stroke-width="1.2"/>
<line x1="51.50" y1="346.50" x2="56.10" y2="346.50" stroke="#333" stroke-width="1.2"/>
<text x="186.40" y="501.40" class="tk" text-anchor="middle">0.75</text>
<text x="47.50" y="352.30" class="tk" text-anchor="end">0.75</text>
<line x1="228.85" y1="482.30" x2="228.85" y2="486.30" stroke="#333" stroke-width="1.2"/>
<line x1="51.50" y1="304.20" x2="56.10" y2="304.20" stroke="#333" stroke-width="1.2"/>
<text x="228.85" y="501.40" class="tk" text-anchor="middle">1.00</text>
<text x="47.50" y="310.00" class="tk" text-anchor="end">1.00</text>
<text x="145.25" y="523.90" class="at" text-anchor="middle">Highest ER</text>
<text class="at" text-anchor="middle" transform="translate(13.90 390.40) rotate(-90)">Lowest ER</text>
<line x1="314.75" y1="298.50" x2="314.75" y2="482.30" stroke="#E6E6E6" stroke-width="1.0"/>
<line x1="308.10" y1="475.90" x2="487.60" y2="475.90" stroke="#E6E6E6" stroke-width="1.0"/>
<line x1="335.32" y1="298.50" x2="335.32" y2="482.30" stroke="#EBEBEB" stroke-width="1.0"/>
<line x1="308.10" y1="454.15" x2="487.60" y2="454.15" stroke="#EBEBEB" stroke-width="1.0"/>
<line x1="355.90" y1="298.50" x2="355.90" y2="482.30" stroke="#E6E6E6" stroke-width="1.0"/>
<line x1="308.10" y1="432.40" x2="487.60" y2="432.40" stroke="#E6E6E6" stroke-width="1.0"/>
<line x1="377.46" y1="298.50" x2="377.46" y2="482.30" stroke="#EBEBEB" stroke-width="1.0"/>
<line x1="308.10" y1="410.92" x2="487.60" y2="410.92" stroke="#EBEBEB" stroke-width="1.0"/>
<line x1="398.40" y1="298.50" x2="398.40" y2="482.30" stroke="#E6E6E6" stroke-width="1.0"/>
<line x1="308.10" y1="390.20" x2="487.60" y2="390.20" stroke="#E6E6E6" stroke-width="1.0"/>
<line x1="419.34" y1="298.50" x2="419.34" y2="482.30" stroke="#EBEBEB" stroke-width="1.0"/>
<line x1="308.10" y1="368.39" x2="487.60" y2="368.39" stroke="#EBEBEB" stroke-width="1.0"/>
<line x1="439.60" y1="298.50" x2="439.60" y2="482.30" stroke="#E6E6E6" stroke-width="1.0"/>
<line x1="308.10" y1="346.50" x2="487.60" y2="346.50" stroke="#E6E6E6" stroke-width="1.0"/>
<line x1="460.25" y1="298.50" x2="460.25" y2="482.30" stroke="#EBEBEB" stroke-width="1.0"/>
<line x1="308.10" y1="325.35" x2="487.60" y2="325.35" stroke="#EBEBEB" stroke-width="1.0"/>
<line x1="480.90" y1="298.50" x2="480.90" y2="482.30" stroke="#E6E6E6" stroke-width="1.0"/>
<line x1="308.10" y1="304.20" x2="487.60" y2="304.20" stroke="#E6E6E6" stroke-width="1.0"/>
<path d="M315.57 475.03 L315.57 473.29 L317.22 473.29 L317.22 471.55 L318.87 471.55 L318.87 469.81 L320.51 469.81 L320.51 468.07 L322.16 468.07 L322.16 466.33 L323.80 466.33 L323.80 464.59 L325.45 464.59 L325.45 462.85 L327.09 462.85 L327.09 461.11 L328.74 461.11 L328.74 459.37 L330.39 459.37 L330.39 457.63 L332.03 457.63 L332.03 455.89 L333.68 455.89 L333.68 454.15 L335.32 454.15 L335.32 452.41 L336.97 452.41 L336.97 450.67 L338.62 450.67 L338.62 448.93 L340.26 448.93 L340.26 447.19 L341.91 447.19 L341.91 445.45 L343.56 445.45 L343.56 443.71 L345.20 443.71 L345.20 441.97 L346.85 441.97 L346.85 440.23 L348.49 440.23 L348.49 438.49 L350.14 438.49 L350.14 436.75 L351.78 436.75 L351.78 435.01 L353.43 435.01 L353.43 433.27 L355.08 433.27 L355.08 431.50 L356.80 431.50 L356.80 429.69 L358.60 429.69 L358.60 427.88 L360.40 427.88 L360.40 426.06 L362.20 426.06 L362.20 424.25 L364.00 424.25 L364.00 422.52 L365.74 422.52 L365.74 420.86 L367.41 420.86 L367.41 419.21 L369.09 419.21 L369.09 417.55 L370.76 417.55 L370.76 415.89 L372.44 415.89 L372.44 414.23 L374.11 414.23 L374.11 412.58 L375.79 412.58 L375.79 410.92 L377.46 410.92 L377.46 409.26 L379.14 409.26 L379.14 407.60 L380.81 407.60 L380.81 405.95 L382.49 405.95 L382.49 404.29 L384.16 404.29 L384.16 402.63 L385.84 402.63 L385.84 400.97 L387.51 400.97 L387.51 399.32 L389.19 399.32 L389.19 397.66 L390.86 397.66 L390.86 396.00 L392.54 396.00 L392.54 394.34 L394.21 394.34 L394.21 392.69 L395.89 392.69 L395.89 391.03 L397.56 391.03 L397.56 389.33 L399.24 389.33 L399.24 387.58 L400.91 387.58 L400.91 385.84 L402.59 385.84 L402.59 384.09 L404.26 384.09 L404.26 382.35 L405.94 382.35 L405.94 380.60 L407.61 380.60 L407.61 378.86 L409.29 378.86 L409.29 377.11 L410.96 377.11 L410.96 375.37 L412.64 375.37 L412.64 373.62 L414.31 373.62 L414.31 371.88 L415.99 371.88 L415.99 370.13 L417.66 370.13 L417.66 368.39 L419.34 368.39 L419.34 366.64 L421.01 366.64 L421.01 364.90 L422.69 364.90 L422.69 363.15 L424.36 363.15 L424.36 361.41 L426.04 361.41 L426.04 359.66 L427.71 359.66 L427.71 357.92 L429.39 357.92 L429.39 356.17 L431.06 356.17 L431.06 354.42 L432.67 354.42 L432.67 352.66 L434.21 352.66 L434.21 350.90 L435.75 350.90 L435.75 349.14 L437.29 349.14 L437.29 347.38 L438.83 347.38 L438.83 345.65 L440.43 345.65 L440.43 343.96 L442.08 343.96 L442.08 342.27 L443.73 342.27 L443.73 340.58 L445.38 340.58 L445.38 338.89 L447.03 338.89 L447.03 337.19 L448.69 337.19 L448.69 335.50 L450.34 335.50 L450.34 333.81 L451.99 333.81 L451.99 332.12 L453.64 332.12 L453.64 330.43 L455.29 330.43 L455.29 328.73 L456.95 328.73 L456.95 327.04 L458.60 327.04 L458.60 325.35 L460.25 325.35 L460.25 323.66 L461.90 323.66 L461.90 321.97 L463.55 321.97 L463.55 320.27 L465.21 320.27 L465.21 318.58 L466.86 318.58 L466.86 316.89 L468.51 316.89 L468.51 315.20 L470.16 315.20 L470.16 313.51 L471.81 313.51 L471.81 311.81 L473.47 311.81 L473.47 310.12 L475.12 310.12 L475.12 308.43 L476.77 308.43 L476.77 306.74 L478.42 306.74 L478.42 305.05 L480.07 305.05 L480.07 475.03 Z" fill="#F8766D"/>
<path d="M315.57 475.03 L315.57 475.03 L317.22 475.03 L317.22 475.03 L318.87 475.03 L318.87 475.03 L320.51 475.03 L320.51 475.03 L322.16 475.03 L322.16 475.03 L323.80 475.03 L323.80 475.03 L325.45 475.03 L325.45 475.03 L327.09 475.03 L327.09 475.03 L328.74 475.03 L328.74 475.03 L330.39 475.03 L330.39 475.03 L332.03 475.03 L332.03 475.03 L333.68 475.03 L333.68 475.03 L335.32 475.03 L335.32 475.03 L336.97 475.03 L336.97 475.03 L338.62 475.03 L338.62 475.03 L340.26 475.03 L340.26 475.03 L341.91 475.03 L341.91 475.03 L343.56 475.03 L343.56 475.03 L345.20 475.03 L345.20 475.03 L346.85 475.03 L346.85 475.03 L348.49 475.03 L348.49 475.03 L350.14 475.03 L350.14 475.03 L351.78 475.03 L351.78 475.03 L353.43 475.03 L353.43 475.03 L355.08 475.03 L355.08 475.03 L356.80 475.03 L356.80 475.03 L358.60 475.03 L358.60 475.03 L360.40 475.03 L360.40 475.03 L362.20 475.03 L362.20 475.03 L364.00 475.03 L364.00 475.03 L365.74 475.03 L365.74 475.03 L367.41 475.03 L367.41 475.03 L369.09 475.03 L369.09 475.03 L370.76 475.03 L370.76 475.03 L372.44 475.03 L372.44 475.03 L374.11 475.03 L374.11 475.03 L375.79 475.03 L375.79 475.03 L377.46 475.03 L377.46 475.03 L379.14 475.03 L379.14 475.03 L380.81 475.03 L380.81 475.03 L382.49 475.03 L382.49 475.03 L384.16 475.03 L384.16 475.03 L385.84 475.03 L385.84 475.03 L387.51 475.03 L387.51 475.03 L389.19 475.03 L389.19 475.03 L390.86 475.03 L390.86 475.03 L392.54 475.03 L392.54 475.03 L394.21 475.03 L394.21 475.03 L395.89 475.03 L395.89 475.03 L397.56 475.03 L397.56 475.03 L399.24 475.03 L399.24 475.03 L400.91 475.03 L400.91 475.03 L402.59 475.03 L402.59 475.03 L404.26 475.03 L404.26 475.03 L405.94 475.03 L405.94 475.03 L407.61 475.03 L407.61 475.03 L409.29 475.03 L409.29 475.03 L410.96 475.03 L410.96 475.03 L412.64 475.03 L412.64 475.03 L414.31 475.03 L414.31 475.03 L415.99 475.03 L415.99 475.03 L417.66 475.03 L417.66 475.03 L419.34 475.03 L419.34 475.03 L421.01 475.03 L421.01 475.03 L422.69 475.03 L422.69 475.03 L424.36 475.03 L424.36 475.03 L426.04 475.03 L426.04 475.03 L427.71 475.03 L427.71 475.03 L429.39 475.03 L429.39 475.03 L431.06 475.03 L431.06 475.03 L432.67 475.03 L432.67 475.03 L434.21 475.03 L434.21 475.03 L435.75 475.03 L435.75 475.03 L437.29 475.03 L437.29 475.03 L438.83 475.03 L438.83 475.03 L440.43 475.03 L440.43 475.03 L442.08 475.03 L442.08 475.03 L443.73 475.03 L443.73 475.03 L445.38 475.03 L445.38 475.03 L447.03 475.03 L447.03 475.03 L448.69 475.03 L448.69 475.03 L450.34 475.03 L450.34 475.03 L451.99 475.03 L451.99 475.03 L453.64 475.03 L453.64 475.03 L455.29 475.03 L455.29 475.03 L456.95 475.03 L456.95 399.32 L458.60 399.32 L458.60 361.41 L460.25 361.41 L460.25 350.90 L461.90 350.90 L461.90 340.58 L463.55 340.58 L463.55 333.81 L465.21 333.81 L465.21 330.43 L466.86 330.43 L466.86 327.04 L468.51 327.04 L468.51 321.97 L470.16 321.97 L470.16 318.58 L471.81 318.58 L471.81 315.20 L473.47 315.20 L473.47 311.81 L475.12 311.81 L475.12 308.43 L476.77 308.43 L476.77 306.74 L478.42 306.74 L478.42 305.05 L480.07 305.05 L480.07 475.03 Z" fill="#619CFF"/>
<path d="M315.57 475.03 L315.57 475.03 L317.22 475.03 L317.22 475.03 L318.87 475.03 L318.87 475.03 L320.51 475.03 L320.51 475.03 L322.16 475.03 L322.16 475.03 L323.80 475.03 L323.80 475.03 L325.45 475.03 L325.45 475.03 L327.09 475.03 L327.09 475.03 L328.74 475.03 L328.74 475.03 L330.39 475.03 L330.39 475.03 L332.03 475.03 L332.03 475.03 L333.68 475.03 L333.68 475.03 L335.32 475.03 L335.32 475.03 L336.97 475.03 L336.97 475.03 L338.62 475.03 L338.62 475.03 L340.26 475.03 L340.26 475.03 L341.91 475.03 L341.91 475.03 L343.56 475.03 L343.56 475.03 L345.20 475.03 L345.20 475.03 L346.85 475.03 L346.85 475.03 L348.49 475.03 L348.49 475.03 L350.14 475.03 L350.14 475.03 L351.78 475.03 L351.78 475.03 L353.43 475.03 L353.43 475.03 L355.08 475.03 L355.08 475.03 L356.80 475.03 L356.80 475.03 L358.60 475.03 L358.60 475.03 L360.40 475.03 L360.40 475.03 L362.20 475.03 L362.20 475.03 L364.00 475.03 L364.00 475.03 L365.74 475.03 L365.74 475.03 L367.41 475.03 L367.41 475.03 L369.09 475.03 L369.09 475.03 L370.76 475.03 L370.76 475.03 L372.44 475.03 L372.44 475.03 L374.11 475.03 L374.11 475.03 L375.79 475.03 L375.79 475.03 L377.46 475.03 L377.46 475.03 L379.14 475.03 L379.14 475.03 L380.81 475.03 L380.81 475.03 L382.49 475.03 L382.49 475.03 L384.16 475.03 L384.16 475.03 L385.84 475.03 L385.84 475.03 L387.51 475.03 L387.51 475.03 L389.19 475.03 L389.19 475.03 L390.86 475.03 L390.86 475.03 L392.54 475.03 L392.54 475.03 L394.21 475.03 L394.21 475.03 L395.89 475.03 L395.89 475.03 L397.56 475.03 L397.56 475.03 L399.24 475.03 L399.24 475.03 L400.91 475.03 L400.91 475.03 L402.59 475.03 L402.59 475.03 L404.26 475.03 L404.26 475.03 L405.94 475.03 L405.94 475.03 L407.61 475.03 L407.61 475.03 L409.29 475.03 L409.29 475.03 L410.96 475.03 L410.96 475.03 L412.64 475.03 L412.64 475.03 L414.31 475.03 L414.31 475.03 L415.99 475.03 L415.99 475.03 L417.66 475.03 L417.66 475.03 L419.34 475.03 L419.34 475.03 L421.01 475.03 L421.01 475.03 L422.69 475.03 L422.69 475.03 L424.36 475.03 L424.36 475.03 L426.04 475.03 L426.04 475.03 L427.71 475.03 L427.71 475.03 L429.39 475.03 L429.39 475.03 L431.06 475.03 L431.06 475.03 L432.67 475.03 L432.67 475.03 L434.21 475.03 L434.21 475.03 L435.75 475.03 L435.75 475.03 L437.29 475.03 L437.29 475.03 L438.83 475.03 L438.83 475.03 L440.43 475.03 L440.43 475.03 L442.08 475.03 L442.08 475.03 L443.73 475.03 L443.73 475.03 L445.38 475.03 L445.38 475.03 L447.03 475.03 L447.03 475.03 L448.69 475.03 L448.69 475.03 L450.34 475.03 L450.34 475.03 L451.99 475.03 L451.99 475.03 L453.64 475.03 L453.64 475.03 L455.29 475.03 L455.29 475.03 L456.95 475.03 L456.95 475.03 L458.60 475.03 L458.60 475.03 L460.25 475.03 L460.25 475.03 L461.90 475.03 L461.90 475.03 L463.55 475.03 L463.55 475.03 L465.21 475.03 L465.21 475.03 L466.86 475.03 L466.86 475.03 L468.51 475.03 L468.51 349.14 L470.16 349.14 L470.16 333.81 L471.81 333.81 L471.81 323.66 L473.47 323.66 L473.47 316.89 L475.12 316.89 L475.12 311.81 L476.77 311.81 L476.77 308.43 L478.42 308.43 L478.42 305.05 L480.07 305.05 L480.07 475.03 Z" fill="#00BA38"/>
<line x1="364.90" y1="298.50" x2="364.90" y2="482.30" stroke="#141414" stroke-width="1.6"/>
<line x1="308.10" y1="423.35" x2="487.60" y2="423.35" stroke="#141414" stroke-width="1.6"/>
<line x1="431.90" y1="298.50" x2="431.90" y2="482.30" stroke="#141414" stroke-width="1.6"/>
<line x1="308.10" y1="355.30" x2="487.60" y2="355.30" stroke="#141414" stroke-width="1.6"/>
<rect x="308.10" y="298.50" width="179.50" height="183.80" fill="none" stroke="#333" stroke-width="1.3"/>
<line x1="314.75" y1="482.30" x2="314.75" y2="486.30" stroke="#333" stroke-width="1.2"/>
<line x1="303.50" y1="475.90" x2="308.10" y2="475.90" stroke="#333" stroke-width="1.2"/>
<text x="314.75" y="501.40" class="tk" text-anchor="middle">0.00</text>
<text x="299.50" y="481.70" class="tk" text-anchor="end">0.00</text>
<line x1="355.90" y1="482.30" x2="355.90" y2="486.30" stroke="#333" stroke-width="1.2"/>
<line x1="303.50" y1="432.40" x2="308.10" y2="432.40" stroke="#333" stroke-width="1.2"/>
<text x="355.90" y="501.40" class="tk" text-anchor="middle">0.25</text>
<text x="299.50" y="438.20" class="tk" text-anchor="end">0.25</text>
<line x1="398.40" y1="482.30" x2="398.40" y2="486.30" stroke="#333" stroke-width="1.2"/>
<line x1="303.50" y1="390.20" x2="308.10" y2="390.20" stroke="#333" stroke-width="1.2"/>
<text x="398.40" y="501.40" class="tk" text-anchor="middle">0.50</text>
<text x="299.50" y="396.00" class="tk" text-anchor="end">0.50</text>
<line x1="439.60" y1="482.30" x2="439.60" y2="486.30" stroke="#333" stroke-width="1.2"/>
<line x1="303.50" y1="346.50" x2="308.10" y2="346.50" stroke="#333" stroke-width="1.2"/>
<text x="439.60" y="501.40" class="tk" text-anchor="middle">0.75</text>
<text x="299.50" y="352.30" class="tk" text-anchor="end">0.75</text>
<line x1="480.90" y1="482.30" x2="480.90" y2="486.30" stroke="#333" stroke-width="1.2"/>
<line x1="303.50" y1="304.20" x2="308.10" y2="304.20" stroke="#333" stroke-width="1.2"/>
<text x="480.90" y="501.40" class="tk" text-anchor="middle">1.00</text>
<text x="299.50" y="310.00" class="tk" text-anchor="end">1.00</text>
<text x="397.25" y="523.90" class="at" text-anchor="middle">Highest ER</text>
<text class="at" text-anchor="middle" transform="translate(265.90 390.40) rotate(-90)">Lowest ER</text>
<line x1="567.30" y1="298.50" x2="567.30" y2="482.30" stroke="#E6E6E6" stroke-width="1.0"/>
<line x1="561.20" y1="475.90" x2="740.40" y2="475.90" stroke="#E6E6E6" stroke-width="1.0"/>
<line x1="588.20" y1="298.50" x2="588.20" y2="482.30" stroke="#EBEBEB" stroke-width="1.0"/>
<line x1="561.20" y1="454.15" x2="740.40" y2="454.15" stroke="#EBEBEB" stroke-width="1.0"/>
<line x1="609.10" y1="298.50" x2="609.10" y2="482.30" stroke="#E6E6E6" stroke-width="1.0"/>
<line x1="561.20" y1="432.40" x2="740.40" y2="432.40" stroke="#E6E6E6" stroke-width="1.0"/>
<line x1="630.11" y1="298.50" x2="630.11" y2="482.30" stroke="#EBEBEB" stroke-width="1.0"/>
<line x1="561.20" y1="410.92" x2="740.40" y2="410.92" stroke="#EBEBEB" stroke-width="1.0"/>
<line x1="650.30" y1="298.50" x2="650.30" y2="482.30" stroke="#E6E6E6" stroke-width="1.0"/>
<line x1="561.20" y1="390.20" x2="740.40" y2="390.20" stroke="#E6E6E6" stroke-width="1.0"/>
<line x1="671.18" y1="298.50" x2="671.18" y2="482.30" stroke="#EBEBEB" stroke-width="1.0"/>
<line x1="561.20" y1="368.39" x2="740.40" y2="368.39" stroke="#EBEBEB" stroke-width="1.0"/>
<line x1="692.60" y1="298.50" x2="692.60" y2="482.30" stroke="#E6E6E6" stroke-width="1.0"/>
<line x1="561.20" y1="346.50" x2="740.40" y2="346.50" stroke="#E6E6E6" stroke-width="1.0"/>
<line x1="713.25" y1="298.50" x2="713.25" y2="482.30" stroke="#EBEBEB" stroke-width="1.0"/>
<line x1="561.20" y1="325.35" x2="740.40" y2="325.35" stroke="#EBEBEB" stroke-width="1.0"/>
<line x1="733.90" y1="298.50" x2="733.90" y2="482.30" stroke="#E6E6E6" stroke-width="1.0"/>
<line x1="561.20" y1="304.20" x2="740.40" y2="304.20" stroke="#E6E6E6" stroke-width="1.0"/>
<path d="M567.5 475.8 L731.0 306.4 L733.8 306.4 L733.8 475.8 Z" fill="#F8766D" stroke="#F8766D" stroke-width="5" stroke-linejoin="round"/>
<rect x="708.2" y="407.4" width="28.1" height="70.7" fill="#619CFF"/>
<circle cx="708.4" cy="461.5" r="2.3" fill="#619CFF"/>
<rect x="720.5" y="431.7" width="15.8" height="46.4" fill="#00BA38"/>
<circle cx="721.0" cy="461.4" r="2.0" fill="#00BA38"/>
<line x1="618.00" y1="298.50" x2="618.00" y2="482.30" stroke="#141414" stroke-width="1.6"/>
<line x1="561.20" y1="423.35" x2="740.40" y2="423.35" stroke="#141414" stroke-width="1.6"/>
<line x1="683.70" y1="298.50" x2="683.70" y2="482.30" stroke="#141414" stroke-width="1.6"/>
<line x1="561.20" y1="355.30" x2="740.40" y2="355.30" stroke="#141414" stroke-width="1.6"/>
<rect x="561.20" y="298.50" width="179.20" height="183.80" fill="none" stroke="#333" stroke-width="1.3"/>
<line x1="567.30" y1="482.30" x2="567.30" y2="486.30" stroke="#333" stroke-width="1.2"/>
<line x1="556.60" y1="475.90" x2="561.20" y2="475.90" stroke="#333" stroke-width="1.2"/>
<text x="567.30" y="501.40" class="tk" text-anchor="middle">0.00</text>
<text x="552.60" y="481.70" class="tk" text-anchor="end">0.00</text>
<line x1="609.10" y1="482.30" x2="609.10" y2="486.30" stroke="#333" stroke-width="1.2"/>
<line x1="556.60" y1="432.40" x2="561.20" y2="432.40" stroke="#333" stroke-width="1.2"/>
<text x="609.10" y="501.40" class="tk" text-anchor="middle">0.25</text>
<text x="552.60" y="438.20" class="tk" text-anchor="end">0.25</text>
<line x1="650.30" y1="482.30" x2="650.30" y2="486.30" stroke="#333" stroke-width="1.2"/>
<line x1="556.60" y1="390.20" x2="561.20" y2="390.20" stroke="#333" stroke-width="1.2"/>
<text x="650.30" y="501.40" class="tk" text-anchor="middle">0.50</text>
<text x="552.60" y="396.00" class="tk" text-anchor="end">0.50</text>
<line x1="692.60" y1="482.30" x2="692.60" y2="486.30" stroke="#333" stroke-width="1.2"/>
<line x1="556.60" y1="346.50" x2="561.20" y2="346.50" stroke="#333" stroke-width="1.2"/>
<text x="692.60" y="501.40" class="tk" text-anchor="middle">0.75</text>
<text x="552.60" y="352.30" class="tk" text-anchor="end">0.75</text>
<line x1="733.90" y1="482.30" x2="733.90" y2="486.30" stroke="#333" stroke-width="1.2"/>
<line x1="556.60" y1="304.20" x2="561.20" y2="304.20" stroke="#333" stroke-width="1.2"/>
<text x="733.90" y="501.40" class="tk" text-anchor="middle">1.00</text>
<text x="552.60" y="310.00" class="tk" text-anchor="end">1.00</text>
<text x="650.20" y="523.90" class="at" text-anchor="middle">Highest ER</text>
<text class="at" text-anchor="middle" transform="translate(519.00 390.40) rotate(-90)">Lowest ER</text>
<g transform="translate(113.60 7.95) skewX(-12)"><ellipse rx="6.00" ry="7.10" fill="#000"/><ellipse cy="0.10" rx="2.90" ry="5.80" fill="#fff"/><rect x="-6.00" y="-1.40" width="12.00" height="1.85" fill="#000"/></g>
<text class="ti" x="0" y="0" font-size="14.5" transform="translate(122.73 19.40) scale(0.850 1)">C</text>
<text class="ti" x="0" y="0" font-size="14.5" transform="translate(133.14 19.40) scale(0.850 1)">L</text>
<text class="ti" x="0" y="0" font-size="14.5" transform="translate(141.69 19.40) scale(0.973 1)">i</text>
<text class="ti" x="0" y="0" font-size="14.5" transform="translate(146.78 19.40) scale(1.261 1)">n</text>
<text class="ti" x="0" y="0" font-size="14.5" transform="translate(157.59 19.40) scale(1.152 1)">t</text>
<text class="ti" x="0" y="0" font-size="7.5" transform="translate(163.89 27.50) scale(0.959 1)">u</text>
<text class="ti" x="0" y="0" font-size="7.5" transform="translate(170.71 27.50) scale(0.850 1)">W</text>
<text class="ti" x="0" y="0" font-size="7.5" transform="translate(178.51 27.50) scale(1.047 1)">L</text>
<g transform="translate(386.80 11.10) skewX(-12)"><ellipse rx="6.30" ry="7.20" fill="#000"/><ellipse cy="0.20" rx="2.60" ry="5.40" fill="#fff"/><rect x="-6.30" y="-1.60" width="12.60" height="1.80" fill="#000"/></g>
<text class="ti" x="0" y="0" font-size="14.5" transform="translate(395.88 23.10) scale(0.902 1)" style="stroke-width:0.1px">Q</text>
<text class="ti" x="0" y="0" font-size="14.5" transform="translate(407.66 23.10) scale(1.034 1)" style="stroke-width:0.1px">h</text>
<text class="ti" x="0" y="0" font-size="20.5" transform="translate(106.09 285.00) scale(1.079 1)" style="stroke-width:0.45px">ω</text>
<text class="t2" x="0" y="0" font-size="14.5" transform="translate(123.41 277.40) scale(1.047 1)">2</text>
<text class="ti" x="0" y="0" font-size="14.5" transform="translate(123.68 290.80) scale(0.850 1)">C</text>
<text class="ti" x="0" y="0" font-size="14.5" transform="translate(134.09 290.80) scale(0.850 1)">L</text>
<text class="ti" x="0" y="0" font-size="14.5" transform="translate(142.64 290.80) scale(0.973 1)">i</text>
<text class="ti" x="0" y="0" font-size="14.5" transform="translate(147.73 290.80) scale(1.261 1)">n</text>
<text class="ti" x="0" y="0" font-size="14.5" transform="translate(158.54 290.80) scale(1.152 1)">t</text>
<text class="ti" x="0" y="0" font-size="7.5" transform="translate(164.46 298.50) scale(1.068 1)">u</text>
<text class="ti" x="0" y="0" font-size="7.5" transform="translate(171.51 298.50) scale(0.850 1)">W</text>
<text class="ti" x="0" y="0" font-size="7.5" transform="translate(181.10 298.50) scale(0.850 1)">L</text>
<line x1="170.7" y1="301.8" x2="169.9" y2="303.9" stroke="#333" stroke-width="0.9"/>
<text class="ti" x="0" y="0" font-size="20.5" transform="translate(378.79 284.50) scale(1.072 1)" style="stroke-width:0.45px">ω</text>
<text class="t2" x="0" y="0" font-size="14.5" transform="translate(396.02 275.70) scale(1.030 1)">2</text>
<text class="ti" x="0" y="0" font-size="14.5" transform="translate(396.08 289.50) scale(0.902 1)" style="stroke-width:0.15px">Q</text>
<text class="ti" x="0" y="0" font-size="14.5" transform="translate(407.86 289.50) scale(1.034 1)" style="stroke-width:0.15px">h</text>
<text class="ti" x="0" y="0" font-size="21" transform="translate(579.19 265.50) scale(0.864 1)">A</text>
<text class="ti" x="0" y="0" font-size="21" transform="translate(593.99 265.50) scale(0.992 1)">l</text>
<text class="ti" x="0" y="0" font-size="21" transform="translate(601.69 265.50) scale(0.992 1)">l</text>
<text class="ti" x="0" y="0" font-size="21" transform="translate(614.05 265.50) scale(1.035 1)">k</text>
<text class="ti" x="0" y="0" font-size="21" transform="translate(627.28 265.50) scale(0.956 1)">e</text>
<text class="ti" x="0" y="0" font-size="21" transform="translate(639.58 265.50) scale(1.158 1)">y</text>
<text class="ti" x="0" y="0" font-size="21" transform="translate(657.56 265.50) scale(0.925 1)">P</text>
<text class="ti" x="0" y="0" font-size="21" transform="translate(672.72 265.50) scale(0.894 1)">B</text>
<text class="ti" x="0" y="0" font-size="21" transform="translate(688.06 265.50) scale(0.894 1)">P</text>
<text class="ti" x="0" y="0" font-size="21" transform="translate(702.70 265.50) scale(0.965 1)">K</text>
<text class="ti" x="0" y="0" font-size="21" transform="translate(588.69 291.30) scale(0.898 1)">p</text>
<text class="ti" x="0" y="0" font-size="21" transform="translate(600.80 291.30) scale(1.036 1)">a</text>
<text class="ti" x="0" y="0" font-size="21" transform="translate(613.80 291.30) scale(1.267 1)">r</text>
<text class="ti" x="0" y="0" font-size="21" transform="translate(626.47 291.30) scale(1.118 1)">a</text>
<text class="ti" x="0" y="0" font-size="21" transform="translate(638.38 291.30) scale(1.186 1)">m</text>
<text class="ti" x="0" y="0" font-size="21" transform="translate(658.43 291.30) scale(1.064 1)">e</text>
<text class="ti" x="0" y="0" font-size="21" transform="translate(671.64 291.30) scale(1.119 1)">t</text>
<text class="ti" x="0" y="0" font-size="21" transform="translate(680.26 291.30) scale(0.992 1)">e</text>
<text class="ti" x="0" y="0" font-size="21" transform="translate(691.60 291.30) scale(1.267 1)">r</text>
<text class="ti" x="0" y="0" font-size="21" transform="translate(705.27 291.30) scale(1.100 1)">s</text>
</svg>
</body></html>
